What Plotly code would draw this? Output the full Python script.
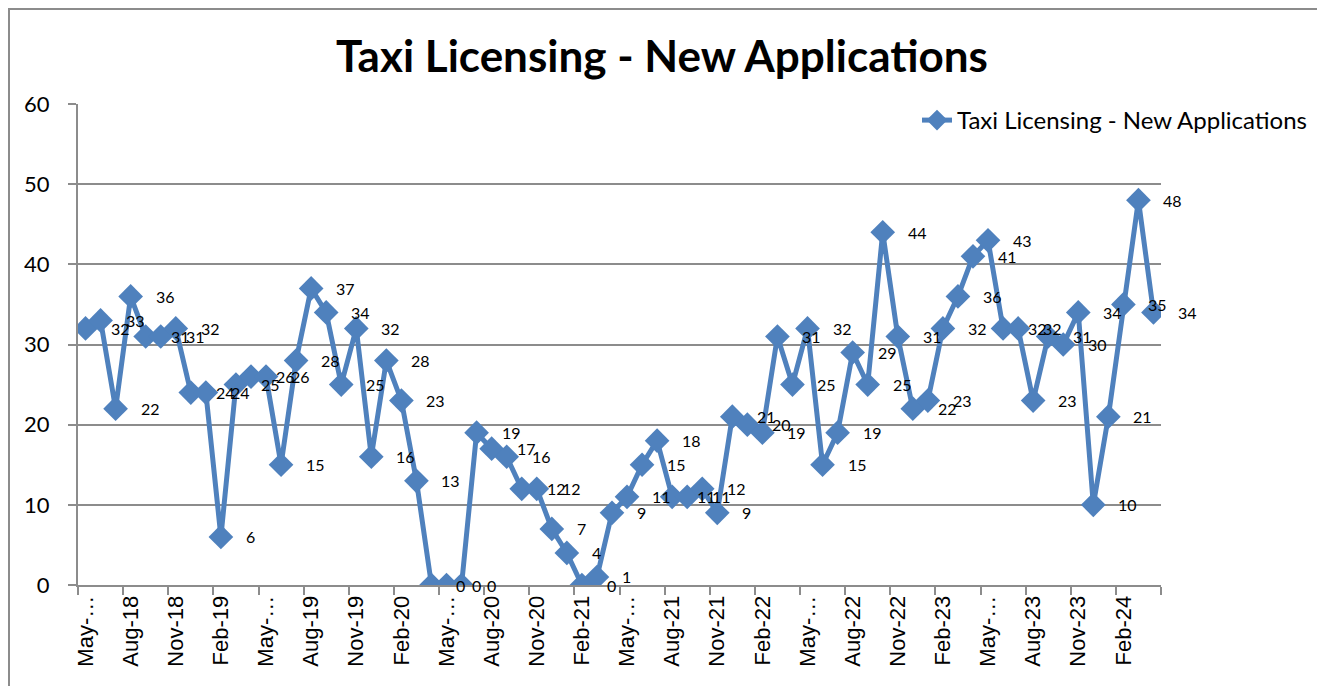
import plotly.graph_objects as go

months = ["May-18","Jun-18","Jul-18","Aug-18","Sep-18","Oct-18","Nov-18","Dec-18",
          "Jan-19","Feb-19","Mar-19","Apr-19","May-19","Jun-19","Jul-19","Aug-19","Sep-19","Oct-19","Nov-19","Dec-19",
          "Jan-20","Feb-20","Mar-20","Apr-20","May-20","Jun-20","Jul-20","Aug-20","Sep-20","Oct-20","Nov-20","Dec-20",
          "Jan-21","Feb-21","Mar-21","Apr-21","May-21","Jun-21","Jul-21","Aug-21","Sep-21","Oct-21","Nov-21","Dec-21",
          "Jan-22","Feb-22","Mar-22","Apr-22","May-22","Jun-22","Jul-22","Aug-22","Sep-22","Oct-22","Nov-22","Dec-22",
          "Jan-23","Feb-23","Mar-23","Apr-23","May-23","Jun-23","Jul-23","Aug-23","Sep-23","Oct-23","Nov-23","Dec-23",
          "Jan-24","Feb-24","Mar-24","Apr-24"]

applications = [32, 33, 22, 36, 31, 31, 32, 24,
                24, 6, 25, 26, 26, 15, 28, 37, 34, 25, 32, 16,
                28, 23, 13, 0, 0, 0, 19, 17, 16, 12, 12, 7,
                4, 0, 1, 9, 11, 15, 18, 11, 11, 12, 9, 21,
                20, 19, 31, 25, 32, 15, 19, 29, 25, 44, 31, 22,
                23, 32, 36, 41, 43, 32, 32, 23, 31, 30, 34, 10,
                21, 35, 48, 34]

tick_labels = ["May-…","Aug-18","Nov-18","Feb-19","May-…","Aug-19","Nov-19","Feb-20",
               "May-…","Aug-20","Nov-20","Feb-21","May-…","Aug-21","Nov-21","Feb-22",
               "May-…","Aug-22","Nov-22","Feb-23","May-…","Aug-23","Nov-23","Feb-24"]

series_name = "Taxi Licensing - New Applications"
title_text = "Taxi Licensing - New Applications"

x_idx = list(range(len(months)))
tick_vals = list(range(0, len(months), 3))[:len(tick_labels)]

BLUE = "#4F81BD"
GRAY = "#8C8C8C"
OFF = 8  # default page body margin
W, H = 1325 - OFF, 686 - OFF
# target pixel positions in the 1325x686 window
PL, PR, PT, PB = 78, 1161, 104, 585
L, T = PL - OFF, PT - OFF
R = W - (PR - OFF)
B = H - (PB - OFF)
pw = W - L - R
ph = H - T - B

def px_to_paper_x(px):
    return (px - PL) / pw

def px_to_paper_y(py):
    return (PB - py) / ph

fig = go.Figure()
fig.add_trace(go.Scatter(
    x=x_idx, y=applications, name=series_name, mode="lines+markers",
    line=dict(color=BLUE, width=5),
    marker=dict(symbol="diamond", size=19, color=BLUE),
    hoverinfo="skip",
))

annotations = []
for xi, v in zip(x_idx, applications):
    annotations.append(dict(
        x=xi, y=v, xref="x", yref="y", text=str(v), showarrow=False,
        xanchor="left", yanchor="middle", xshift=23,
        font=dict(family="Lato", size=16, color="#000000"),
    ))

shapes = [dict(
    type="rect", xref="paper", yref="paper",
    x0=px_to_paper_x(9), x1=px_to_paper_x(1318),
    y0=px_to_paper_y(720), y1=px_to_paper_y(9),
    line=dict(color="#8C8C8C", width=2), fillcolor="rgba(0,0,0,0)", layer="below",
)]

fig.update_layout(
    width=W, height=H,
    margin=dict(l=L, r=R, t=T, b=B, pad=0),
    paper_bgcolor="white", plot_bgcolor="white",
    title=dict(text=title_text, x=(662 - OFF) / W, xref="container", xanchor="center",
               y=1 - (57 - OFF) / H, yref="container", yanchor="middle",
               font=dict(family="Lato", size=44, color="#000000", weight="bold")),
    showlegend=True,
    legend=dict(x=px_to_paper_x(1312), xanchor="right", y=px_to_paper_y(98), yanchor="top",
                font=dict(family="Lato", size=24, color="#000000"),
                bgcolor="rgba(0,0,0,0)", borderwidth=0),
    xaxis=dict(
        range=[-0.5, len(months) - 0.5],
        tickmode="array", tickvals=tick_vals, ticktext=tick_labels,
        tickangle=-90, ticks="",
        tickfont=dict(family="Liberation Sans", size=22, color="#000000"),
        showline=True, linecolor=GRAY, linewidth=2,
        showgrid=False, zeroline=False,
        minor=dict(ticks="outside", tick0=-0.5, dtick=3, ticklen=8, tickcolor=GRAY, tickwidth=2, showgrid=False),
    ),
    yaxis=dict(
        range=[0, 60], dtick=10, tick0=0,
        ticks="outside", ticklen=8, tickcolor=GRAY, tickwidth=2,
        tickfont=dict(family="Lato", size=22, color="#000000"),
        showline=True, linecolor=GRAY, linewidth=2,
        showgrid=True, gridcolor=GRAY, gridwidth=2, zeroline=False,
        ticklabelstandoff=14,
    ),
    annotations=annotations,
    shapes=shapes,
)

fig.write_html("out.html", config={"displayModeBar": False})
